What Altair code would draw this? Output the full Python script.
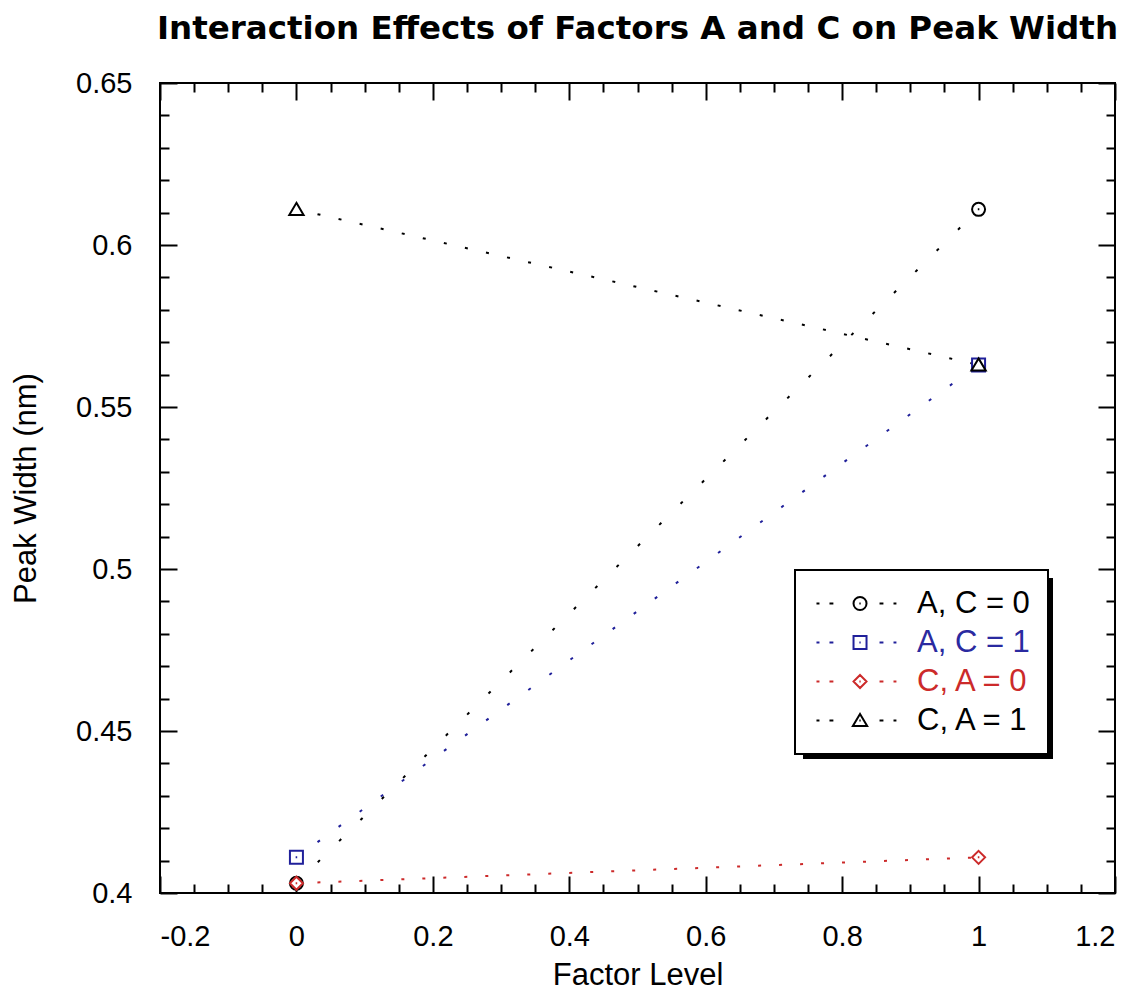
import altair as alt
import pandas as pd

# ---------------- data ----------------
series = ["A, C = 0", "A, C = 1", "C, A = 0", "C, A = 1"]
factor_level = [0, 1]
peak_a_c0 = [0.403, 0.611]
peak_a_c1 = [0.411, 0.563]
peak_c_a0 = [0.403, 0.411]
peak_c_a1 = [0.611, 0.563]

series_colors = ["#000000", "#20209a", "#cc2a2a", "#000000"]
label_colors = ["#000000", "#2a2aa0", "#cc2a2a", "#000000"]
dash_patterns = [[3, 27], [3, 23], [3, 18], [3, 18.6]]

x_major = [-0.2, 0, 0.2, 0.4, 0.6, 0.8, 1, 1.2]
x_minor = [-0.15, -0.1, -0.05, 0.05, 0.1, 0.15, 0.25, 0.3, 0.35, 0.45, 0.5,
           0.55, 0.65, 0.7, 0.75, 0.85, 0.9, 0.95, 1.05, 1.1, 1.15]
y_major = [0.4, 0.45, 0.5, 0.55, 0.6, 0.65]
y_minor = [0.41, 0.42, 0.43, 0.44, 0.46, 0.47, 0.48, 0.49, 0.51, 0.52, 0.53,
           0.54, 0.56, 0.57, 0.58, 0.59, 0.61, 0.62, 0.63, 0.64]

values = [peak_a_c0, peak_a_c1, peak_c_a0, peak_c_a1]
rows = []
for s, vals in zip(series, values):
    for lv, v in zip(factor_level, vals):
        rows.append({"series": s, "level": lv, "peak": v})
df = pd.DataFrame(rows)

# marker shapes (custom paths with a centre dot)
plot_shapes = [
    "M-1,0A1,1 0 1 1 1,0A1,1 0 1 1 -1,0Z M-0.12,0L0.12,0",
    "M-1,-1L1,-1L1,1L-1,1Z M-0.12,0L0.12,0",
    "M0,-1L1,0L0,1L-1,0Z M-0.12,0L0.12,0",
    "M0,-1L1.1,0.85L-1.1,0.85Z",
]
# legend symbols: "- - marker - -"
dashes = ("M-1.85,0L-1.39,0 M0.15,0L0.75,0 M7.85,0L8.45,0 "
          "M10.0,0L10.45,0 M4.75,0L4.95,0 ")
legend_shapes = [
    dashes + "M3.85,0A1,1 0 1 1 5.85,0A1,1 0 1 1 3.85,0Z",
    dashes + "M3.85,-1L5.85,-1L5.85,1L3.85,1Z",
    dashes + "M4.85,-1L5.85,0L4.85,1L3.85,0Z",
    dashes + "M4.85,-1L5.95,0.85L3.75,0.85Z",
]

FONT = "Liberation Sans"
FS = 29

xs = alt.Scale(domain=[-0.2, 1.2], nice=False, zero=False)
ys = alt.Scale(domain=[0.4, 0.65], nice=False, zero=False)
color_scale = alt.Scale(domain=series, range=series_colors)

label_fix = "replace(datum.label, '\u2212', '-')"


def axis(orient, vals, size, labels=False, title=None, **kw):
    return alt.Axis(orient=orient, values=vals, tickSize=size, offset=-size,
                    labels=labels, domain=False, grid=False, title=title,
                    tickColor="black", tickWidth=2, **kw)


label_color_expr = " : ".join(
    f"datum.value == '{s}' ? '{c}'" for s, c in zip(series, label_colors)
) + " : 'black'"

leg = alt.Legend(
    title=None, orient="none", legendX=635, legendY=487,
    fillColor="white", strokeColor="black", padding=18,
    symbolSize=169, symbolStrokeWidth=2, labelOffset=73,
    labelFont=FONT, labelFontSize=31, labelColor={"expr": label_color_expr},
    rowPadding=7, labelLimit=300,
)

base = alt.Chart(df)

shadow = alt.Chart(pd.DataFrame({"k": [0]})).mark_rect(color="black").encode(
    x=alt.value(643), x2=alt.value(893), y=alt.value(495), y2=alt.value(676)
)

lines = base.mark_line(strokeWidth=2, strokeCap="butt").encode(
    x=alt.X("level:Q", scale=xs,
            axis=axis("bottom", x_major, 17, labels=True, title="Factor Level",
                      format="~g", labelExpr=label_fix, labelPadding=29,
                      titlePadding=9)),
    y=alt.Y("peak:Q", scale=ys,
            axis=axis("left", y_major, 17, labels=True, title="Peak Width (nm)",
                      format="~g", labelPadding=28, titlePadding=33)),
    color=alt.Color("series:N", scale=color_scale, legend=None),
    strokeDash=alt.StrokeDash("series:N",
                              scale=alt.Scale(domain=series, range=dash_patterns),
                              legend=None),
    detail="series:N",
)

points = base.mark_point(filled=False, fill="white", strokeWidth=2, size=169,
                         opacity=1).encode(
    x=alt.X("level:Q", scale=xs, axis=axis("bottom", x_minor, 9)),
    y=alt.Y("peak:Q", scale=ys, axis=axis("left", y_minor, 9)),
    color=alt.Color("series:N", scale=color_scale, legend=None),
    shape=alt.Shape("series:N", scale=alt.Scale(domain=series, range=plot_shapes),
                    legend=None),
)

legend_layer = base.transform_filter(alt.datum.level > 5).mark_point(
    filled=False, strokeWidth=2, size=169, opacity=1
).encode(
    x=alt.X("level:Q", scale=xs, axis=axis("top", x_major, 17)),
    y=alt.Y("peak:Q", scale=ys, axis=axis("right", y_major, 17)),
    color=alt.Color("series:N", scale=color_scale, legend=leg),
    shape=alt.Shape("series:N", scale=alt.Scale(domain=series, range=legend_shapes),
                    legend=leg),
)

minor_frame = base.transform_filter(alt.datum.level > 5).mark_point().encode(
    x=alt.X("level:Q", scale=xs, axis=axis("top", x_minor, 9)),
    y=alt.Y("peak:Q", scale=ys, axis=axis("right", y_minor, 9)),
)

chart = alt.layer(shadow, lines, points, legend_layer, minor_frame).resolve_scale(
    color="independent", shape="independent", strokeDash="independent"
).resolve_axis(
    x="independent", y="independent"
).properties(
    width=955, height=810,
    title=alt.TitleParams(
        "Interaction Effects of Factors A and C on Peak Width",
        font="DejaVu Sans", fontSize=32.5, fontWeight="bold", color="black",
        anchor="middle", offset=24,
    ),
    autosize=alt.AutoSizeParams(type="none"),
    padding={"left": 160, "top": 83, "right": 26, "bottom": 104},
    background="white",
).configure_view(
    stroke="black", strokeWidth=2
).configure_axis(
    labelFont=FONT, labelFontSize=FS, labelColor="black",
    titleFont=FONT, titleFontSize=31, titleFontWeight="normal", titleColor="black",
).configure_legend(
    strokeWidth=2
)

chart.save("out.html", embed_options={"renderer": "svg", "actions": False})
